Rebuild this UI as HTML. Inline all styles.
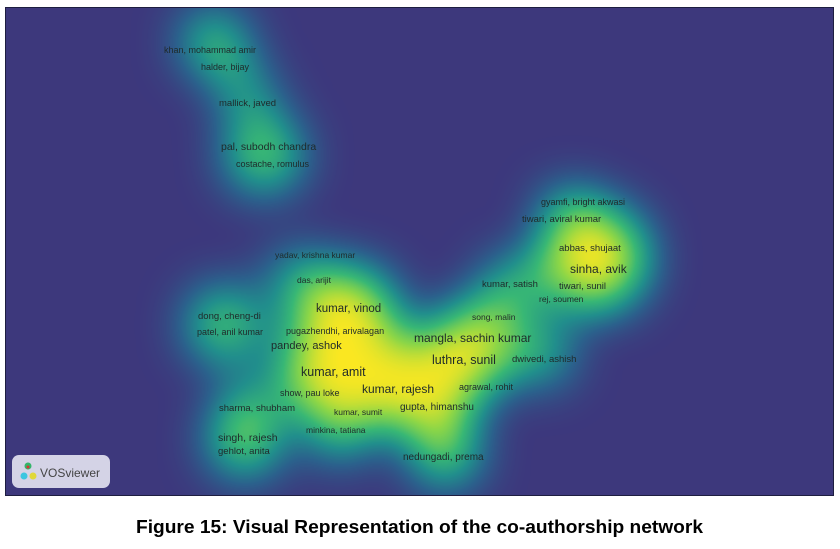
<!DOCTYPE html>
<html><head><meta charset="utf-8"><style>
html,body{margin:0;padding:0;background:#fff;width:840px;height:549px;overflow:hidden}
svg{display:block;overflow:hidden}
.t{font-family:"Liberation Sans",sans-serif;fill:#1f2a2a}
</style></head><body>
<svg width="840" height="549" viewBox="0 0 840 549" xmlns="http://www.w3.org/2000/svg">
<defs>
<clipPath id="c"><rect x="6" y="8" width="827" height="487"/></clipPath>
<filter id="d" x="-60" y="-60" width="960" height="620" filterUnits="userSpaceOnUse" color-interpolation-filters="sRGB">
<feGaussianBlur stdDeviation="24"/>
<feComponentTransfer>
<feFuncR type="table" tableValues="0.24 0.17 0.13 0.22 0.55 0.99"/>
<feFuncG type="table" tableValues="0.22 0.38 0.56 0.72 0.84 0.91"/>
<feFuncB type="table" tableValues="0.49 0.55 0.55 0.46 0.28 0.13"/>
<feFuncA type="linear" slope="0" intercept="1"/>
</feComponentTransfer>
</filter>
</defs>
<rect x="5" y="7" width="829" height="489" fill="#1e1e40"/>
<g clip-path="url(#c)">
<g filter="url(#d)">
<rect x="-60" y="-60" width="960" height="620" fill="#000"/>
<g fill="#fff">
<circle cx="214" cy="42" r="32" fill-opacity="0.7"/>
<circle cx="235" cy="72" r="24" fill-opacity="0.45"/>
<circle cx="250" cy="102" r="28" fill-opacity="0.5"/>
<circle cx="264" cy="155" r="38" fill-opacity="0.75"/>
<circle cx="594" cy="258" r="54" fill-opacity="1"/>
<circle cx="572" cy="218" r="30" fill-opacity="0.75"/>
<circle cx="515" cy="285" r="30" fill-opacity="0.65"/>
<circle cx="540" cy="352" r="32" fill-opacity="0.65"/>
<circle cx="345" cy="320" r="54" fill-opacity="1"/>
<circle cx="335" cy="368" r="56" fill-opacity="1"/>
<circle cx="405" cy="385" r="48" fill-opacity="1"/>
<circle cx="462" cy="356" r="46" fill-opacity="1"/>
<circle cx="440" cy="405" r="34" fill-opacity="0.9"/>
<circle cx="300" cy="280" r="30" fill-opacity="0.6"/>
<circle cx="225" cy="325" r="38" fill-opacity="0.72"/>
<circle cx="250" cy="405" r="30" fill-opacity="0.55"/>
<circle cx="245" cy="440" r="36" fill-opacity="0.8"/>
<circle cx="340" cy="425" r="34" fill-opacity="0.7"/>
<circle cx="445" cy="452" r="34" fill-opacity="0.8"/>
<circle cx="490" cy="318" r="30" fill-opacity="0.7"/>
</g>
</g>
</g>
<g class="t">
<text x="164" y="53" font-size="9">khan, mohammad amir</text>
<text x="201" y="70" font-size="9">halder, bijay</text>
<text x="219" y="106" font-size="9.5">mallick, javed</text>
<text x="221" y="150" font-size="10.5">pal, subodh chandra</text>
<text x="236" y="167" font-size="9">costache, romulus</text>
<text x="541" y="205" font-size="9">gyamfi, bright akwasi</text>
<text x="522" y="222" font-size="9.5">tiwari, aviral kumar</text>
<text x="559" y="251" font-size="9.5">abbas, shujaat</text>
<text x="570" y="273" font-size="12">sinha, avik</text>
<text x="559" y="289" font-size="9.5">tiwari, sunil</text>
<text x="482" y="287" font-size="9.5">kumar, satish</text>
<text x="539" y="302" font-size="8.5">rej, soumen</text>
<text x="275" y="258" font-size="8.5">yadav, krishna kumar</text>
<text x="297" y="283" font-size="8.5">das, arijit</text>
<text x="316" y="312" font-size="11.5">kumar, vinod</text>
<text x="198" y="319" font-size="9.5">dong, cheng-di</text>
<text x="197" y="335" font-size="9">patel, anil kumar</text>
<text x="286" y="334" font-size="9">pugazhendhi, arivalagan</text>
<text x="271" y="349" font-size="11">pandey, ashok</text>
<text x="472" y="320" font-size="8.5">song, malin</text>
<text x="414" y="342" font-size="12">mangla, sachin kumar</text>
<text x="432" y="364" font-size="12.5">luthra, sunil</text>
<text x="512" y="362" font-size="9.5">dwivedi, ashish</text>
<text x="301" y="376" font-size="12.5">kumar, amit</text>
<text x="362" y="393" font-size="12">kumar, rajesh</text>
<text x="459" y="390" font-size="9">agrawal, rohit</text>
<text x="280" y="396" font-size="9">show, pau loke</text>
<text x="219" y="411" font-size="9.5">sharma, shubham</text>
<text x="400" y="410" font-size="10">gupta, himanshu</text>
<text x="334" y="415" font-size="8.5">kumar, sumit</text>
<text x="306" y="433" font-size="8.5">minkina, tatiana</text>
<text x="218" y="441" font-size="10.5">singh, rajesh</text>
<text x="218" y="454" font-size="9.5">gehlot, anita</text>
<text x="403" y="460" font-size="10">nedungadi, prema</text>
</g>
<rect x="12" y="455" width="98" height="33" rx="7" fill="#d4d3e6"/>
<g>
<circle cx="28" cy="466" r="3.5" fill="#34b56a"/>
<circle cx="24" cy="476" r="3.5" fill="#3bc6e0"/>
<circle cx="33" cy="476" r="3.5" fill="#e0d83a"/>
<circle cx="28" cy="467" r="1.5" fill="#d33"/>
</g>
<text x="40" y="477" font-family="Liberation Sans,sans-serif" font-size="12" fill="#444">VOSviewer</text>
<text x="136" y="533" font-family="Liberation Sans,sans-serif" font-weight="bold" font-size="18" fill="#000" textLength="567" lengthAdjust="spacingAndGlyphs">Figure 15: Visual Representation of the co-authorship network</text>
</svg>
</body></html>
